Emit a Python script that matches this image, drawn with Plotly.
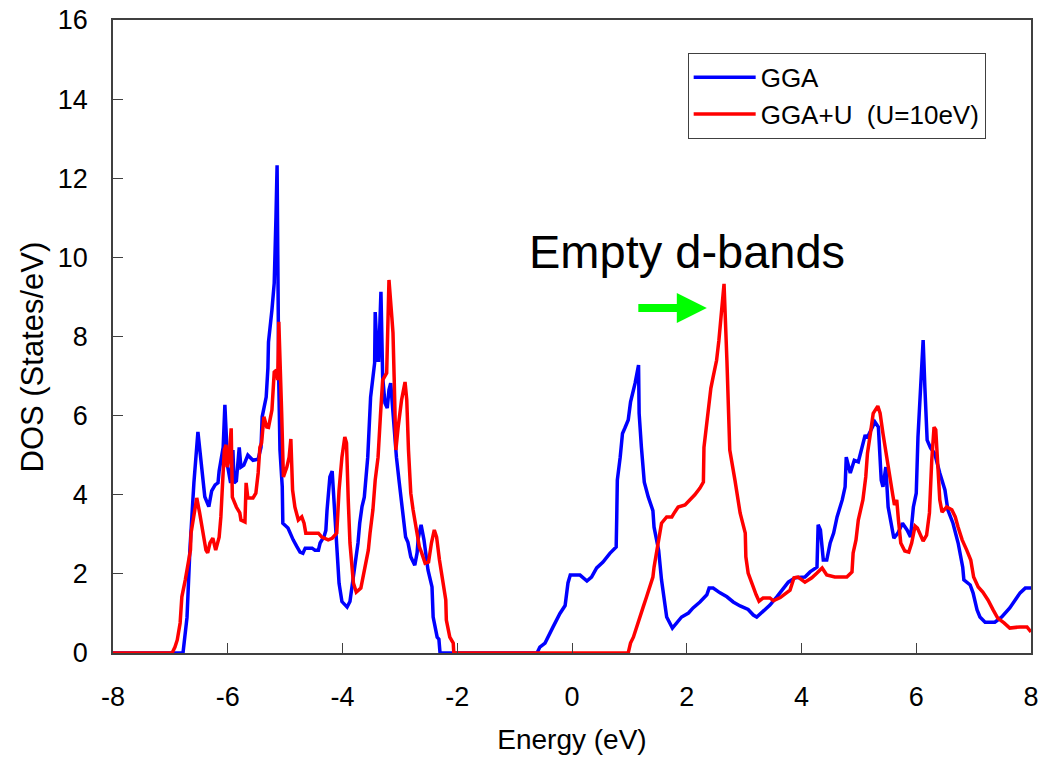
import plotly.graph_objects as go

# ---- data ----
gga_energy = [-8, -6.78, -6.71, -6.66, -6.59, -6.52, -6.40, -6.33, -6.28, -6.22, -6.17, -6.15, -6.08, -6.05,
              -6.00, -5.95, -5.91, -5.89, -5.85, -5.80, -5.77, -5.72, -5.65, -5.56, -5.47, -5.42, -5.40, -5.33,
              -5.30, -5.29, -5.23, -5.19, -5.16, -5.14, -5.11, -5.09, -5.05, -5.04, -4.95, -4.92, -4.86, -4.80,
              -4.74, -4.69, -4.65, -4.53, -4.48, -4.42, -4.39, -4.32, -4.29, -4.27, -4.22, -4.18, -4.15, -4.09,
              -4.06, -4.01, -3.92, -3.87, -3.84, -3.80, -3.73, -3.70, -3.66, -3.62, -3.58, -3.56, -3.51, -3.47,
              -3.44, -3.43, -3.39, -3.37, -3.33, -3.30, -3.26, -3.22, -3.19, -3.16, -3.12, -3.06, -3.01, -2.95,
              -2.90, -2.86, -2.81, -2.74, -2.70, -2.68, -2.63, -2.58, -2.51, -2.44, -2.42, -2.35, -2.32, -2.30,
              -0.61, -0.56, -0.47, -0.33, -0.21, -0.12, -0.07, -0.03, 0.14, 0.26, 0.34, 0.43, 0.54, 0.66, 0.77,
              0.78, 0.79, 0.84, 0.88, 0.92, 0.98, 1.02, 1.10, 1.16, 1.17, 1.21, 1.26, 1.33, 1.41, 1.43, 1.51,
              1.56, 1.61, 1.65, 1.75, 1.83, 1.91, 2.03, 2.11, 2.23, 2.35, 2.39, 2.46, 2.58, 2.70, 2.81, 2.93,
              3.07, 3.16, 3.22, 3.33, 3.45, 3.57, 3.68, 3.77, 3.89, 4.06, 4.15, 4.27, 4.29, 4.33, 4.38, 4.44,
              4.50, 4.56, 4.62, 4.71, 4.76, 4.78, 4.85, 4.92, 4.99, 5.05, 5.11, 5.14, 5.28, 5.34, 5.39, 5.42,
              5.47, 5.51, 5.58, 5.61, 5.68, 5.76, 5.84, 5.90, 5.95, 6.00, 6.03, 6.08, 6.12, 6.15, 6.19, 6.25,
              6.32, 6.41, 6.50, 6.55, 6.64, 6.73, 6.81, 6.83, 6.94, 6.99, 7.06, 7.11, 7.20, 7.37, 7.49, 7.63,
              7.72, 7.81, 7.90, 8.0]
gga_dos = [0, 0, 0.9, 2.6, 4.3, 5.59, 3.95, 3.7, 4.1, 4.25, 4.3, 4.6, 5.2, 6.27,
           4.7, 4.3, 5.13, 4.3, 4.35, 5.2, 4.7, 4.75, 5.0, 4.87, 4.9, 5.2, 5.97, 6.47,
           7.2, 7.86, 8.67, 9.35, 11.0, 12.33, 6.8, 5.13, 4.2, 3.28, 3.16, 3.05, 2.86, 2.7,
           2.55, 2.52, 2.65, 2.65, 2.6, 2.6, 2.78, 2.95, 3.1, 3.6, 4.45, 4.6, 3.87, 2.6,
           1.76, 1.3, 1.16, 1.3, 1.6, 2.1, 2.78, 3.28, 3.7, 3.94, 4.7, 4.95, 6.47, 6.9,
           7.33, 8.62, 7.4, 7.4, 9.13, 6.98, 6.32, 6.19, 6.65, 6.82, 6.0, 4.95, 4.3, 3.62,
           2.93, 2.8, 2.43, 2.22, 2.53, 2.9, 3.24, 2.86, 2.1, 1.67, 0.91, 0.4, 0.35, 0,
           0, 0.15, 0.25, 0.66, 1.0, 1.2, 1.77, 1.97, 1.97, 1.82, 1.92, 2.15, 2.3, 2.52, 2.68,
           3.44, 4.37, 4.95, 5.55, 5.68, 5.89, 6.34, 6.82, 7.28, 6.06, 5.2, 4.32, 3.94, 3.6, 3.18, 2.6,
           1.85, 1.34, 0.91, 0.63, 0.78, 0.91, 1.01, 1.14, 1.29, 1.47, 1.64, 1.64, 1.52, 1.42, 1.29, 1.19,
           1.1, 0.96, 0.91, 1.04, 1.21, 1.42, 1.64, 1.79, 1.9, 1.92, 2.05, 2.17, 3.24, 3.11, 2.35, 2.35,
           2.78, 3.03, 3.44, 3.87, 4.2, 4.95, 4.55, 4.87, 4.83, 5.2, 5.51, 5.43, 5.84, 5.71, 4.37, 4.2,
           4.7, 3.69, 3.18, 2.9, 3.03, 3.28, 3.11, 2.93, 3.69, 4.04, 5.46, 6.72, 7.91, 6.72, 5.38, 5.18,
           5.05, 4.55, 4.12, 3.62, 3.28, 2.78, 2.17, 1.85, 1.72, 1.52, 1.09, 0.91, 0.78, 0.78, 0.91, 1.14,
           1.34, 1.52, 1.64, 1.64]

ggau_energy = [-8, -6.97, -6.92, -6.88, -6.83, -6.80, -6.74, -6.69, -6.65, -6.64, -6.59, -6.54, -6.49, -6.41,
               -6.38, -6.35, -6.31, -6.26, -6.21, -6.15, -6.12, -6.09, -6.06, -6.03, -6.01, -5.98, -5.94, -5.92,
               -5.85, -5.79, -5.77, -5.70, -5.68, -5.65, -5.56, -5.51, -5.47, -5.44, -5.41, -5.37, -5.32, -5.29,
               -5.23, -5.19, -5.15, -5.13, -5.11, -5.06, -5.03, -4.97, -4.93, -4.90, -4.87, -4.83, -4.77, -4.71,
               -4.67, -4.64, -4.57, -4.48, -4.42, -4.36, -4.25, -4.18, -4.10, -4.06, -4.01, -3.96, -3.93, -3.90,
               -3.87, -3.81, -3.76, -3.68, -3.62, -3.55, -3.52, -3.47, -3.43, -3.38, -3.34, -3.30, -3.23, -3.22,
               -3.19, -3.14, -3.12, -3.10, -3.07, -3.03, -2.97, -2.91, -2.88, -2.85, -2.81, -2.77, -2.71, -2.66,
               -2.62, -2.56, -2.50, -2.45, -2.40, -2.36, -2.31, -2.25, -2.20, -2.19, -2.13, -2.07, -2.06,
               0.98, 1.02, 1.07, 1.16, 1.24, 1.30, 1.35, 1.41, 1.43, 1.48, 1.52, 1.56, 1.65, 1.74, 1.79, 1.85,
               1.97, 2.06, 2.14, 2.23, 2.29, 2.30, 2.35, 2.39, 2.42, 2.46, 2.52, 2.56, 2.60, 2.65, 2.70, 2.75,
               2.84, 2.89, 2.93, 3.02, 3.03, 3.07, 3.15, 3.21, 3.26, 3.33, 3.45, 3.51, 3.63, 3.74, 3.80, 3.87,
               3.94, 4.06, 4.18, 4.27, 4.36, 4.44, 4.58, 4.79, 4.88, 4.90, 4.95, 4.99, 5.07, 5.12, 5.15, 5.21,
               5.25, 5.33, 5.37, 5.42, 5.47, 5.53, 5.59, 5.62, 5.66, 5.69, 5.73, 5.80, 5.87, 5.92, 5.98, 6.02,
               6.12, 6.18, 6.23, 6.27, 6.31, 6.34, 6.37, 6.41, 6.45, 6.53, 6.62, 6.68, 6.73, 6.80, 6.88, 6.95,
               7.00, 7.08, 7.16, 7.25, 7.34, 7.42, 7.53, 7.63, 7.81, 7.93, 8.0]
ggau_dos = [0, 0, 0.15, 0.33, 0.76, 1.42, 1.85, 2.35, 2.6, 3.03, 3.44, 3.92, 3.54, 2.93,
            2.6, 2.53, 2.78, 2.9, 2.6, 2.93, 3.44, 4.3, 5.13, 5.26, 4.7, 4.87, 5.68, 3.94,
            3.69, 3.54, 3.36, 3.31, 4.3, 3.92, 3.92, 4.04, 4.55, 5.2, 5.31, 5.97, 5.71, 5.7,
            6.14, 7.1, 7.15, 6.9, 8.37, 6.06, 4.45, 4.7, 4.95, 5.41, 4.12, 3.69, 3.36, 3.44,
            3.28, 3.03, 3.03, 3.05, 3.03, 2.93, 2.86, 2.9, 3.03, 4.12, 4.95, 5.46, 5.31, 3.87,
            2.78, 1.77, 1.54, 1.64, 2.1, 2.6, 3.03, 3.62, 4.37, 4.95, 5.97, 6.9, 7.08, 7.66,
            9.43, 8.49, 8.09, 6.98, 5.13, 5.71, 6.4, 6.85, 6.4, 5.13, 4.04, 3.62, 3.11, 2.68,
            2.53, 2.27, 2.3, 2.78, 3.11, 2.93, 2.35, 1.85, 1.34, 0.83, 0.4, 0.25, 0,
            0, 0.25, 0.4, 0.83, 1.16, 1.42, 1.67, 1.92, 2.17, 2.6, 2.93, 3.28, 3.44, 3.44, 3.56, 3.69,
            3.74, 3.87, 4.0, 4.17, 4.32, 5.2, 5.89, 6.27, 6.69, 6.98, 7.4, 7.9, 8.6, 9.33, 7.4, 5.13,
            4.37, 3.87, 3.54, 3.03, 2.43, 2.02, 1.67, 1.47, 1.31, 1.39, 1.39, 1.32, 1.4, 1.54, 1.59, 1.9,
            1.92, 1.79, 1.9, 2.02, 2.15, 1.97, 1.92, 1.92, 2.05, 2.53, 2.86, 3.36, 3.87, 4.45, 5.05, 5.64,
            6.06, 6.24, 6.06, 5.55, 5.05, 4.45, 4.0, 3.74, 3.87, 3.36, 2.78, 2.58, 2.55, 2.78, 3.21, 3.16,
            2.83, 2.98, 3.54, 4.87, 5.71, 5.64, 4.7, 3.87, 3.56, 3.69, 3.62, 3.44, 3.18, 2.86, 2.6, 2.35,
            1.92, 1.67, 1.54, 1.34, 1.09, 0.88, 0.76, 0.63, 0.66, 0.66, 0.53]

series_names = ["GGA", "GGA+U \u00a0(U=10eV)"]
series_colors = ["#0000FF", "#FF0000"]

x_tick_vals = [-8, -6, -4, -2, 0, 2, 4, 6, 8]
x_tick_text = ["-8", "-6", "-4", "-2", "0", "2", "4", "6", "8"]
y_tick_vals = [0, 2, 4, 6, 8, 10, 12, 14, 16]

x_title = "Energy (eV)"
y_title = "DOS (States/eV)"
annotation_text = "Empty d-bands"
arrow_tail = (1.13, 8.72)
arrow_head = (2.35, 8.72)

FONT = "Arial, 'Liberation Sans', sans-serif"

fig = go.Figure()
for xs, ys, name, col in [(gga_energy, gga_dos, series_names[0], series_colors[0]),
                          (ggau_energy, ggau_dos, series_names[1], series_colors[1])]:
    fig.add_trace(go.Scatter(x=xs, y=ys, mode="lines", name=name,
                             line=dict(color=col, width=3.5)))

axis_common = dict(showline=True, linecolor="#404040", linewidth=1.5, mirror=True,
                   ticks="inside", ticklen=10, tickwidth=1, tickcolor="#404040",
                   showgrid=False, zeroline=False, automargin=False,
                   ticklabeloverflow="allow",
                   tickfont=dict(family=FONT, size=27, color="black"))

fig.update_layout(
    width=1038, height=758,
    margin=dict(l=113, r=7, t=20, b=105),
    paper_bgcolor="white", plot_bgcolor="white",
    font=dict(family=FONT, color="black"),
    xaxis=dict(range=[-8, 8], tickvals=x_tick_vals, ticktext=x_tick_text,
               ticklabelstandoff=19,
               title=dict(text=x_title, font=dict(family=FONT, size=28), standoff=18),
               **axis_common),
    yaxis=dict(range=[0, 16], tickvals=y_tick_vals,
               ticklabelstandoff=18,
               **axis_common),
    legend=dict(x=0.626, y=0.948, xanchor="left", yanchor="top",
                bgcolor="white", bordercolor="#404040", borderwidth=1,
                font=dict(family=FONT, size=26, color="black"),
                itemwidth=62, tracegroupgap=0),
    showlegend=True,
)

# y-axis title as a rotated annotation so it can sit slightly below centre, as in the original
fig.add_annotation(xref="paper", yref="paper", x=0, y=0.5, xshift=-81, yshift=-21,
                   text=y_title, textangle=-90, showarrow=False,
                   xanchor="center", yanchor="middle",
                   font=dict(family=FONT, size=31, color="black"))
fig.add_annotation(x=2.0, y=10.15, xref="x", yref="y", text=annotation_text,
                   showarrow=False, font=dict(family=FONT, size=47, color="black"))
fig.add_annotation(x=arrow_head[0], y=arrow_head[1], ax=arrow_tail[0], ay=arrow_tail[1],
                   xref="x", yref="y", axref="x", ayref="y", text="",
                   showarrow=True, arrowhead=2, arrowsize=0.75, arrowwidth=8,
                   arrowcolor="#00FF00")

# remove the browser's default 8px body margin so the figure fills the window exactly
fig.write_html("out.html", config={"displayModeBar": False},
               post_script="document.body.style.margin='0';document.body.style.overflow='hidden';")
